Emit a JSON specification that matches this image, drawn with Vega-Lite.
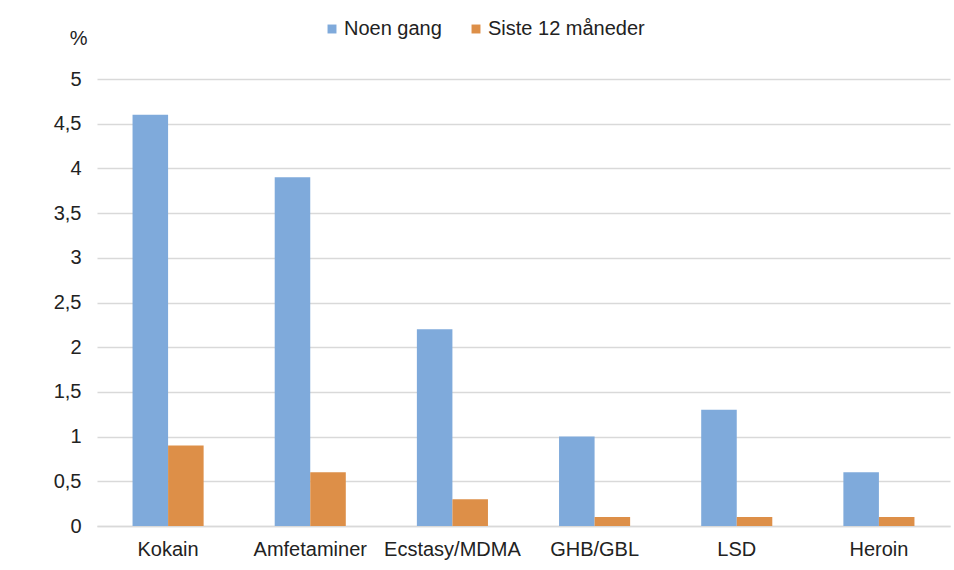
{
  "$schema": "https://vega.github.io/schema/vega-lite/v6.json",
  "width": 853,
  "height": 447,
  "autosize": "none",
  "padding": {"left": 97, "top": 79, "right": 4, "bottom": 44},
  "background": "white",
  "data": {"values": [
    {"stoff": "Kokain", "serie": "Noen gang", "v": 4.6},
    {"stoff": "Kokain", "serie": "Siste 12 måneder", "v": 0.9},
    {"stoff": "Amfetaminer", "serie": "Noen gang", "v": 3.9},
    {"stoff": "Amfetaminer", "serie": "Siste 12 måneder", "v": 0.6},
    {"stoff": "Ecstasy/MDMA", "serie": "Noen gang", "v": 2.2},
    {"stoff": "Ecstasy/MDMA", "serie": "Siste 12 måneder", "v": 0.3},
    {"stoff": "GHB/GBL", "serie": "Noen gang", "v": 1.0},
    {"stoff": "GHB/GBL", "serie": "Siste 12 måneder", "v": 0.1},
    {"stoff": "LSD", "serie": "Noen gang", "v": 1.3},
    {"stoff": "LSD", "serie": "Siste 12 måneder", "v": 0.1},
    {"stoff": "Heroin", "serie": "Noen gang", "v": 0.6},
    {"stoff": "Heroin", "serie": "Siste 12 måneder", "v": 0.1}
  ]},
  "mark": {"type": "bar"},
  "encoding": {
    "x": {
      "field": "stoff", "type": "nominal", "sort": null,
      "scale": {"paddingInner": 0.5, "paddingOuter": 0.25},
      "axis": {"title": null, "labelAngle": 0, "ticks": false, "domain": true, "domainColor": "#d9d9d9", "domainWidth": 1.5, "labelPadding": 13, "labelFontSize": 20, "labelColor": "#222222", "labelFont": "Liberation Sans"}
    },
    "xOffset": {"field": "serie", "type": "nominal", "sort": ["Noen gang", "Siste 12 måneder"]},
    "y": {
      "field": "v", "type": "quantitative",
      "scale": {"domain": [0, 5], "nice": false},
      "axis": {"values": [0, 0.5, 1, 1.5, 2, 2.5, 3, 3.5, 4, 4.5, 5], "labelExpr": "replace(format(datum.value, '~g'), '.', ',')", "domain": false, "ticks": false, "grid": true, "gridColor": "#d9d9d9", "gridWidth": 1.5, "labelPadding": 16, "labelFontSize": 20, "labelColor": "#222222", "labelFont": "Liberation Sans", "title": "%", "titleAngle": 0, "titleX": -10, "titleY": -41, "titleAlign": "right", "titleBaseline": "middle", "titleFontSize": 20, "titleFontWeight": "normal", "titleColor": "#222222", "titleFont": "Liberation Sans"}
    },
    "color": {
      "field": "serie", "type": "nominal", "sort": ["Noen gang", "Siste 12 måneder"],
      "scale": {"domain": ["Noen gang", "Siste 12 måneder"], "range": ["#7faadb", "#dd8f48"]},
      "legend": {"title": null, "orient": "none", "direction": "horizontal", "legendX": 225, "legendY": -60, "symbolType": "square", "symbolSize": 80, "symbolStrokeWidth": 0, "labelFontSize": 20, "labelColor": "#222222", "labelFont": "Liberation Sans", "columnPadding": 24, "labelOffset": 2}
    }
  },
  "config": {"view": {"stroke": null}}
}
